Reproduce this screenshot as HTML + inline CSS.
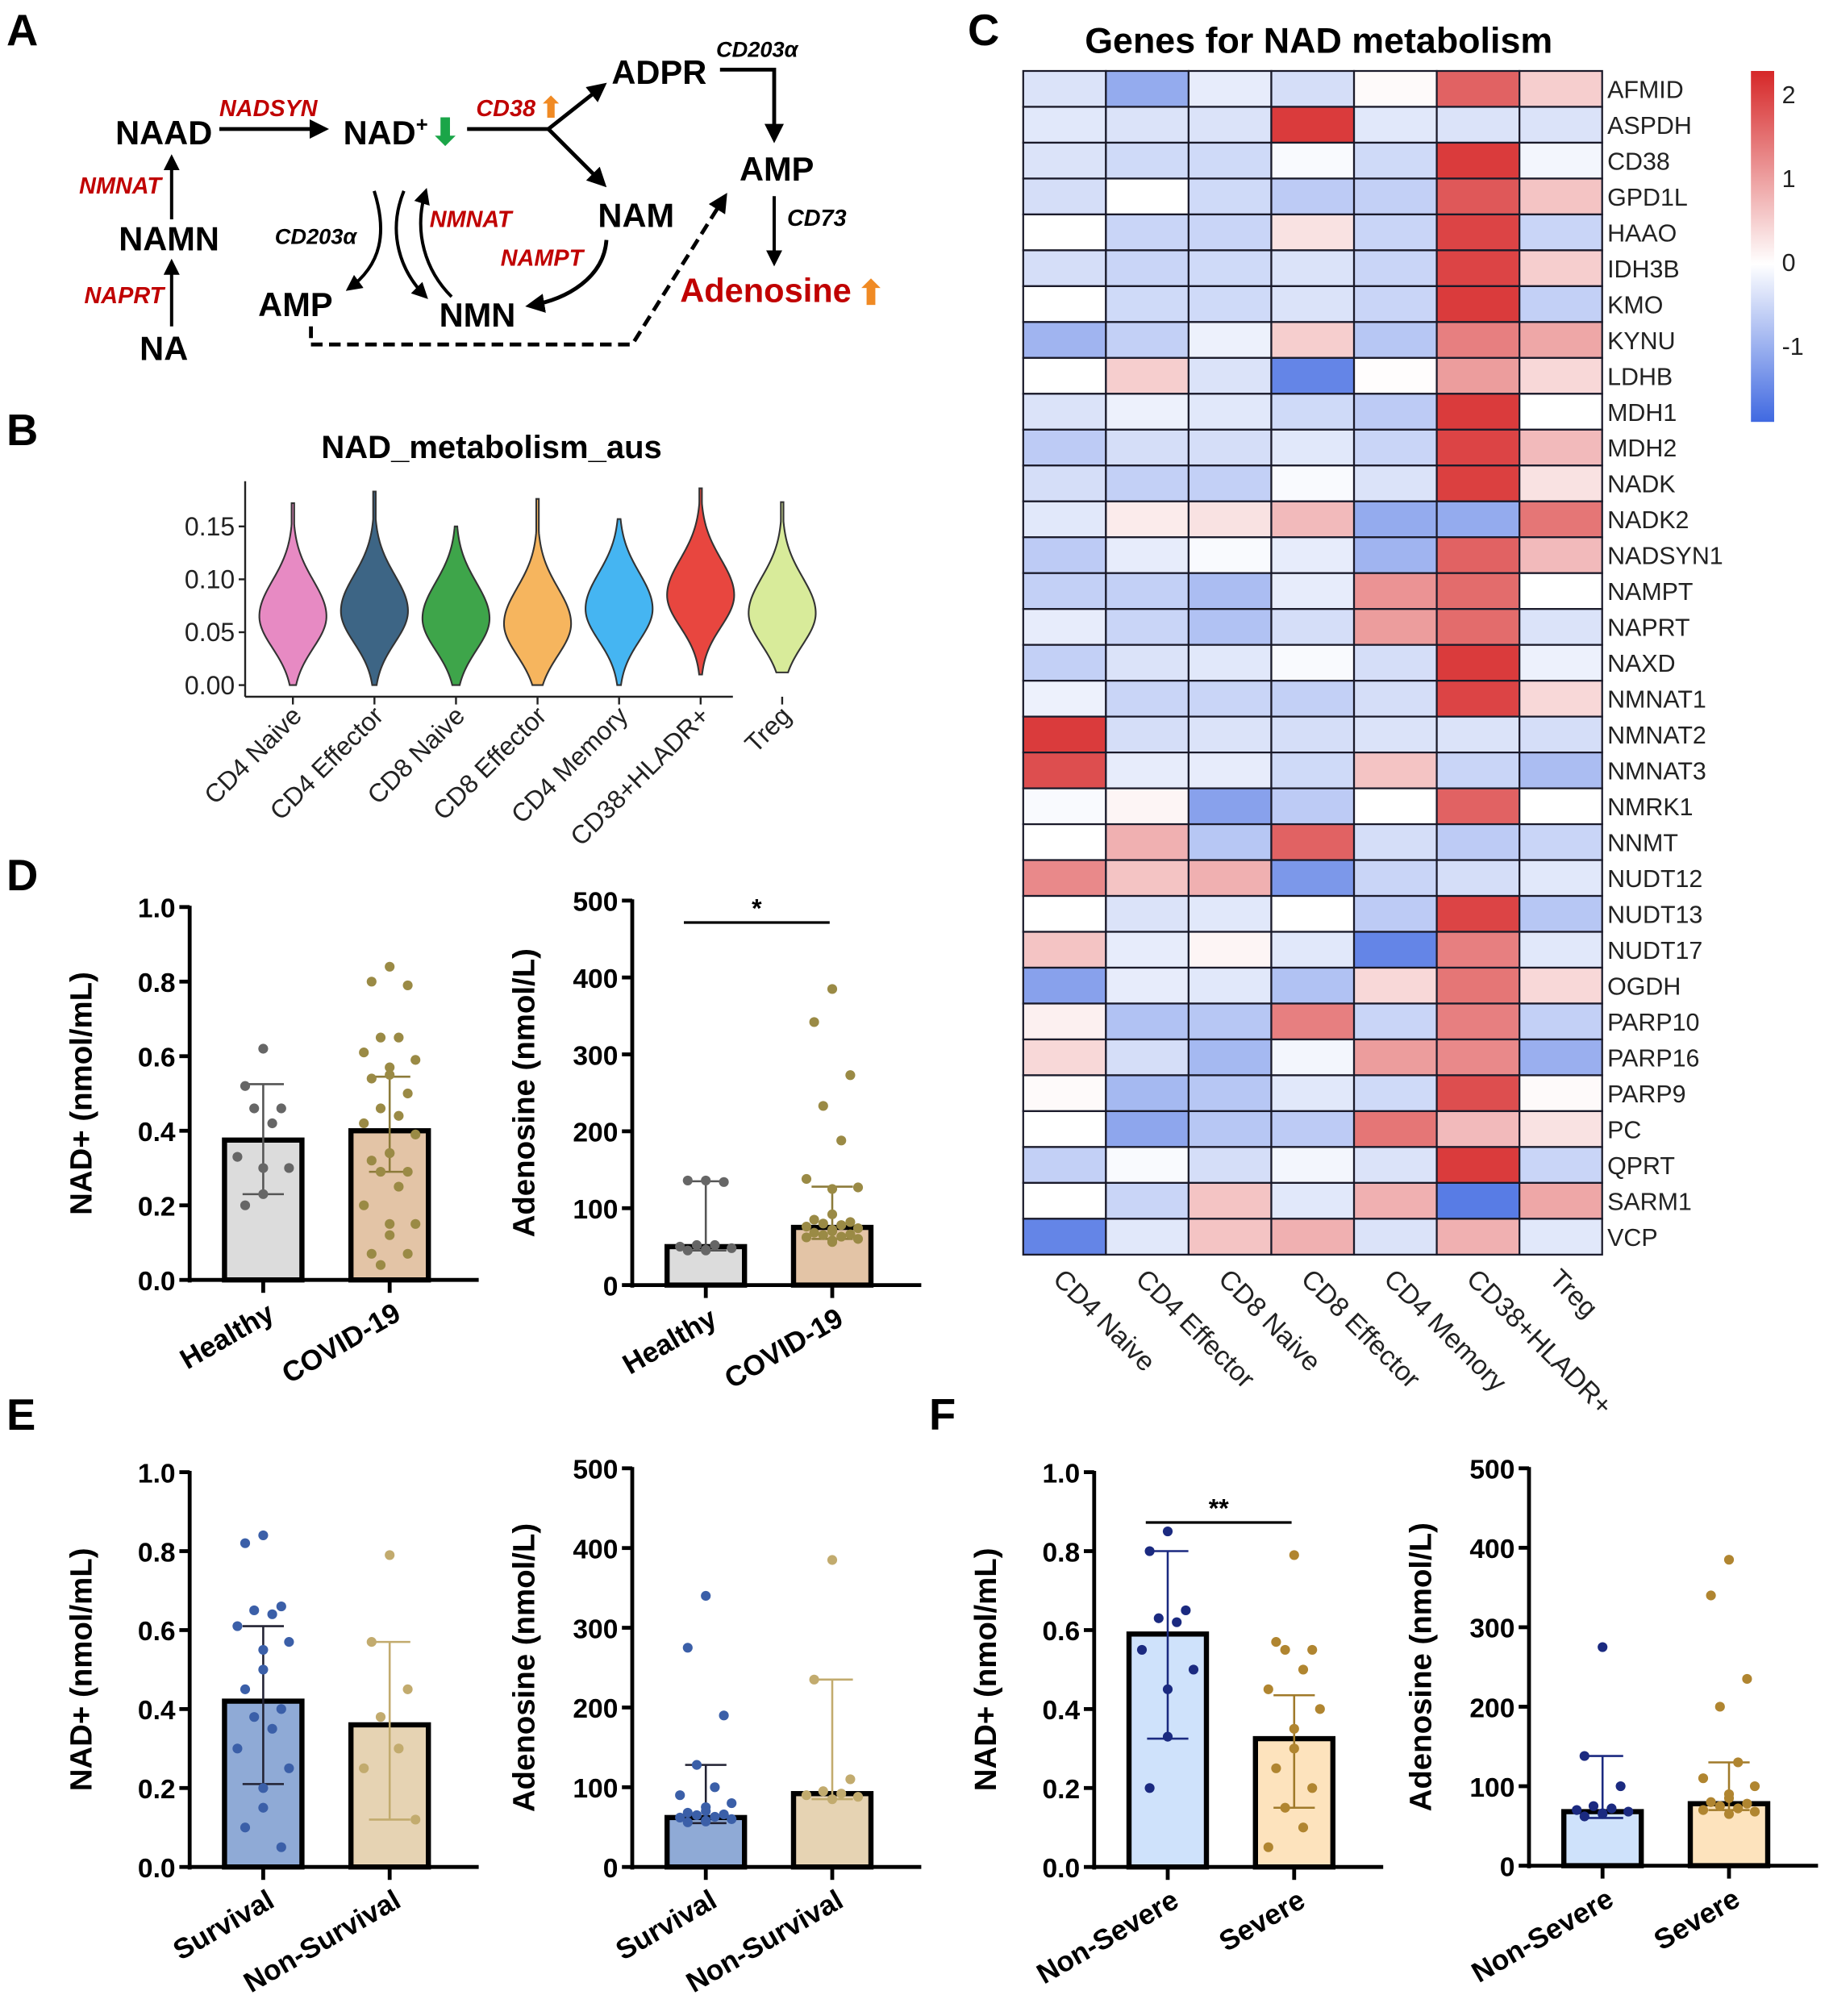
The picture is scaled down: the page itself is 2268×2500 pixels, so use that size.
<!DOCTYPE html>
<html><head><meta charset="utf-8"><style>
html,body{margin:0;padding:0;background:#fff;}
svg{display:block;}
text{font-family:"Liberation Sans",Arial,sans-serif;}
</style></head><body>
<svg id="fig" width="2268" height="2500" viewBox="0 0 1417.5 1562.5" xmlns="http://www.w3.org/2000/svg">
<defs>
<marker id="ah" viewBox="0 0 10 10" refX="8" refY="5" markerWidth="5" markerHeight="5" orient="auto"><path d="M0,0 L10,5 L0,10 z" fill="#000"/></marker>
</defs>
<g id="panelA" font-weight="bold">
<text x="5" y="35" font-size="34">A</text>
<text x="127" y="112" font-size="26" text-anchor="middle">NAAD</text>
<text x="131" y="194" font-size="26" text-anchor="middle">NAMN</text>
<text x="127" y="279" font-size="26" text-anchor="middle">NA</text>
<text x="125" y="150" font-size="18" fill="#c00000" font-style="italic" text-anchor="end">NMNAT</text>
<text x="127" y="235" font-size="18" fill="#c00000" font-style="italic" text-anchor="end">NAPRT</text>
<line x1="133" y1="170" x2="133" y2="122" stroke="#000" stroke-width="2.5" marker-end="url(#ah)"/>
<line x1="133" y1="253" x2="133" y2="203" stroke="#000" stroke-width="2.5" marker-end="url(#ah)"/>
<text x="208" y="90" font-size="18" fill="#c00000" font-style="italic" text-anchor="middle">NADSYN</text>
<line x1="170" y1="100" x2="252" y2="100" stroke="#000" stroke-width="3" marker-end="url(#ah)"/>
<text x="266" y="112" font-size="26">NAD<tspan font-size="16" dy="-10">+</tspan></text>
<text x="345" y="112" font-size="28" fill="#1aa548" text-anchor="middle">⬇</text>
<line x1="362" y1="100" x2="425" y2="100" stroke="#000" stroke-width="3"/>
<line x1="425" y1="100" x2="468" y2="66" stroke="#000" stroke-width="3" marker-end="url(#ah)"/>
<line x1="425" y1="100" x2="468" y2="143" stroke="#000" stroke-width="3" marker-end="url(#ah)"/>
<text x="369" y="90" font-size="18" fill="#c00000" font-style="italic">CD38</text>
<text x="427" y="91" font-size="22" fill="#f08a24" text-anchor="middle">⬆</text>
<text x="474" y="65" font-size="26">ADPR</text>
<text x="555" y="44" font-size="17" font-style="italic">CD203α</text>
<polyline points="558,54 600,54 600,108" fill="none" stroke="#000" stroke-width="3" marker-end="url(#ah)"/>
<text x="602" y="140" font-size="26" text-anchor="middle">AMP</text>
<line x1="600" y1="152" x2="600" y2="204" stroke="#000" stroke-width="2.5" marker-end="url(#ah)"/>
<text x="610" y="175" font-size="18" font-style="italic">CD73</text>
<text x="527" y="234" font-size="26" fill="#c00000">Adenosine</text>
<text x="675" y="236" font-size="26" fill="#f08a24" text-anchor="middle">⬆</text>
<text x="493" y="176" font-size="26" text-anchor="middle">NAM</text>
<text x="388" y="206" font-size="18" fill="#c00000" font-style="italic">NAMPT</text>
<path d="M470,186 C468,215 440,232 410,237" fill="none" stroke="#000" stroke-width="3" marker-end="url(#ah)"/>
<text x="370" y="253" font-size="26" text-anchor="middle">NMN</text>
<text x="229" y="245" font-size="26" text-anchor="middle">AMP</text>
<text x="213" y="189" font-size="17" font-style="italic">CD203α</text>
<text x="333" y="176" font-size="18" fill="#c00000" font-style="italic">NMNAT</text>
<path d="M290,148 C300,180 296,205 270,224" fill="none" stroke="#000" stroke-width="2.5" marker-end="url(#ah)"/>
<path d="M313,148 C300,180 310,210 330,230" fill="none" stroke="#000" stroke-width="2.5" marker-end="url(#ah)"/>
<path d="M350,230 C330,210 320,180 330,148" fill="none" stroke="#000" stroke-width="2.5" marker-end="url(#ah)"/>
<polyline points="241,253 241,267 490,267 562,152" fill="none" stroke="#000" stroke-width="3" stroke-dasharray="9,5" marker-end="url(#ah)"/>
</g>
<g id="panelB"></g>
<g id="panelC"></g>
<g id="bars"></g>
</svg>
<script>
const violinCats = ["CD4 Naive","CD4 Effector","CD8 Naive","CD8 Effector","CD4 Memory","CD38+HLADR+","Treg"];
const violinPeak = [0.065,0.070,0.063,0.058,0.072,0.085,0.068];
const violinMin = [0.0,0.0,0.0,0.0,0.0,0.01,0.012];
const violinMax = [0.172,0.183,0.150,0.176,0.157,0.186,0.173];
const violinColors = ["#e78ac3","#3d6585","#3ea54a","#f6b55e","#45b5f2","#e8463f","#d8eb9a"];
const violinTicks = [0,0.05,0.10,0.15];
const violinTickLabels = ["0.00","0.05","0.10","0.15"];

const genes = ["AFMID","ASPDH","CD38","GPD1L","HAAO","IDH3B","KMO","KYNU","LDHB","MDH1","MDH2","NADK","NADK2","NADSYN1","NAMPT","NAPRT","NAXD","NMNAT1","NMNAT2","NMNAT3","NMRK1","NNMT","NUDT12","NUDT13","NUDT17","OGDH","PARP10","PARP16","PARP9","PC","QPRT","SARM1","VCP"];
const cellTypes = ["CD4 Naive","CD4 Effector","CD8 Naive","CD8 Effector","CD4 Memory","CD38+HLADR+","Treg"];
const heatValues = [
[-0.3,-0.9,-0.2,-0.35,0.05,1.6,0.5],
[-0.25,-0.3,-0.3,2.0,-0.25,-0.3,-0.3],
[-0.3,-0.4,-0.4,-0.05,-0.4,2.0,-0.1],
[-0.35,0,-0.4,-0.55,-0.5,1.7,0.6],
[0,-0.45,-0.45,0.3,-0.45,1.9,-0.45],
[-0.35,-0.45,-0.4,-0.3,-0.45,1.9,0.5],
[0,-0.4,-0.4,-0.3,-0.45,2.0,-0.5],
[-0.8,-0.5,-0.15,0.5,-0.6,1.3,0.9],
[0,0.5,-0.3,-1.3,0.02,1.0,0.4],
[-0.3,-0.15,-0.25,-0.4,-0.55,2.0,0],
[-0.55,-0.35,-0.35,-0.25,-0.45,1.9,0.7],
[-0.35,-0.5,-0.5,-0.05,-0.3,1.95,0.3],
[-0.25,0.2,0.3,0.7,-0.9,-0.9,1.4],
[-0.55,-0.2,-0.05,-0.2,-0.8,1.6,0.7],
[-0.5,-0.5,-0.7,-0.2,1.1,1.5,0],
[-0.2,-0.45,-0.65,-0.35,1.0,1.5,-0.3],
[-0.5,-0.3,-0.25,-0.05,-0.35,2.0,-0.15],
[-0.15,-0.45,-0.45,-0.5,-0.35,1.9,0.4],
[2.0,-0.35,-0.3,-0.35,-0.3,-0.3,-0.35],
[1.8,-0.2,-0.2,-0.4,0.6,-0.45,-0.7],
[-0.05,0.1,-1.0,-0.55,0,1.6,0],
[0,0.8,-0.6,1.6,-0.35,-0.55,-0.45],
[1.2,0.6,0.8,-1.1,-0.45,-0.35,-0.25],
[0,-0.3,-0.25,0,-0.55,1.9,-0.6],
[0.6,-0.2,0.1,-0.25,-1.3,1.3,-0.25],
[-1.0,-0.2,-0.25,-0.65,0.4,1.4,0.4],
[0.15,-0.65,-0.6,1.3,-0.45,1.3,-0.5],
[0.4,-0.35,-0.75,-0.1,1.0,1.2,-0.85],
[0.05,-0.75,-0.6,-0.25,-0.4,1.8,0.05],
[0,-0.95,-0.6,-0.55,1.4,0.7,0.3],
[-0.5,-0.05,-0.35,-0.1,-0.3,2.0,-0.45],
[0,-0.45,0.6,-0.25,0.8,-1.4,0.9],
[-1.3,-0.25,0.6,0.8,-0.3,0.8,-0.25]];
const colorbarTicks = [2,1,0,-1];

const dNadCats = ["Healthy","COVID-19"];
const dNadMeans = [0.375,0.40];
const dNadErr = [[0.23,0.525],[0.29,0.545]];
const dNadPts = [[0.62,0.52,0.46,0.46,0.42,0.33,0.30,0.30,0.23,0.20],
 [0.84,0.80,0.79,0.65,0.65,0.61,0.59,0.57,0.55,0.54,0.50,0.46,0.44,0.42,0.39,0.34,0.34,0.32,0.29,0.29,0.25,0.20,0.15,0.15,0.12,0.07,0.07,0.04]];
const dAdoCats = ["Healthy","COVID-19"];
const dAdoMeans = [50,75];
const dAdoErr = [[45,135],[60,128]];
const dAdoPts = [[136,136,134,52,52,50,48,46,45,45],
 [385,342,273,233,188,138,127,125,92,85,82,80,78,76,74,72,70,68,66,65,63,62,60,58,56]];
const eNadCats = ["Survival","Non-Survival"];
const eNadMeans = [0.42,0.36];
const eNadErr = [[0.21,0.61],[0.12,0.57]];
const eNadPts = [[0.84,0.82,0.66,0.65,0.64,0.61,0.57,0.55,0.50,0.45,0.40,0.38,0.35,0.30,0.25,0.20,0.15,0.10,0.05],
 [0.79,0.57,0.45,0.38,0.30,0.25,0.12]];
const eAdoCats = ["Survival","Non-Survival"];
const eAdoMeans = [62,92];
const eAdoErr = [[55,128],[85,235]];
const eAdoPts = [[340,275,190,128,100,90,80,75,70,68,66,65,63,62,60,58,57,56],
 [385,235,110,95,92,90,88,85]];
const fNadCats = ["Non-Severe","Severe"];
const fNadMeans = [0.59,0.325];
const fNadErr = [[0.325,0.80],[0.15,0.435]];
const fNadPts = [[0.85,0.80,0.65,0.63,0.62,0.55,0.50,0.45,0.33,0.20],
 [0.79,0.57,0.55,0.55,0.50,0.45,0.40,0.35,0.30,0.25,0.20,0.15,0.10,0.05]];
const fAdoCats = ["Non-Severe","Severe"];
const fAdoMeans = [68,78];
const fAdoErr = [[60,138],[70,130]];
const fAdoPts = [[275,138,100,75,72,70,68,66,65,62],
 [385,340,235,200,130,110,100,90,85,80,78,75,72,70,68,65]];

const NS = "http://www.w3.org/2000/svg";
function mk(tag, attrs, parent) {
  const e = document.createElementNS(NS, tag);
  for (const k in attrs) e.setAttribute(k, attrs[k]);
  if (parent) parent.appendChild(e);
  return e;
}

(function(){
  const g = document.getElementById('panelB');
  const x0 = 190, y0 = 531, y15 = 408;
  const yS = v => y0 - (v / 0.15) * (y0 - y15);
  const xS = i => 227 + i * 63.2;
  const lab = mk('text', {x: 5, y: 345, 'font-size': 34, 'font-weight': 'bold'}, g);
  
  
  lab.textContent = 'B';
  const t = mk('text', {x: 381, y: 355, 'font-size': 25, 'font-weight': 'bold', 'text-anchor': 'middle'}, g);
  
  
  t.textContent = 'NAD_metabolism_aus';
  const yl = mk('line', {x1: x0, y1: 373, x2: x0, y2: 540, stroke: '#222', 'stroke-width': 1.5}, g);
  
  
  const xl = mk('line', {x1: x0, y1: 540, x2: 568, y2: 540, stroke: '#222', 'stroke-width': 1.5}, g);
  
  
  violinTicks.forEach((v, i) => {
    mk('line', {x1: x0 - 5, y1: yS(v), x2: x0, y2: yS(v), stroke: '#222', 'stroke-width': 1.5}, g);
    const tl = mk('text', {x: x0 - 8, y: yS(v) + 7, 'font-size': 20, 'text-anchor': 'end', fill: '#222'}, g);
    
    
    tl.textContent = violinTickLabels[i];
  });
  violinCats.forEach((c, i) => {
    const cx = xS(i);
    const lo = violinMin[i], hi = violinMax[i], pk = violinPeak[i];
    const pts = [];
    const n = 70;
    for (let k = 0; k <= n; k++) {
      const v = lo + (hi - lo) * k / n;
      const s = v < pk ? 0.030 : 0.034;
      let w = 26 * Math.exp(-Math.pow((v - pk) / s, 2) / 2);
      w = Math.max(w, 1.0);
      pts.push([v, w]);
    }
    let d = 'M' + cx + ',' + yS(lo);
    pts.forEach(p => d += ' L' + (cx + p[1]) + ',' + yS(p[0]));
    for (let k = pts.length - 1; k >= 0; k--) d += ' L' + (cx - pts[k][1]) + ',' + yS(pts[k][0]);
    d += 'Z';
    const vp = mk('path', {d: d, fill: violinColors[i], stroke: '#333', 'stroke-width': 1.3}, g);
    
    
    mk('line', {x1: cx, y1: 540, x2: cx, y2: 546, stroke: '#222', 'stroke-width': 1.5}, g);
    const cl = mk('text', {x: cx + 8, y: 556, 'font-size': 20, 'text-anchor': 'end', fill: '#222', transform: 'rotate(-45 ' + (cx + 8) + ' 556)'}, g);
    
    
    cl.textContent = c;
  });
})();

(function(){
  const g = document.getElementById('panelC');
  const x0 = 793, y0 = 55, cw = 64.1, ch = 27.8;
  const lab = mk('text', {x: 750, y: 35, 'font-size': 34, 'font-weight': 'bold'}, g);
  
  
  lab.textContent = 'C';
  const t = mk('text', {x: 1022, y: 41, 'font-size': 28, 'font-weight': 'bold', 'text-anchor': 'middle'}, g);
  
  
  t.textContent = 'Genes for NAD metabolism';
  function col(v) {
    const blue = [64, 105, 225], red = [214, 39, 40];
    let c;
    if (v >= 0) { const f = Math.min(v / 2.2, 1); c = [255 + (red[0] - 255) * f, 255 + (red[1] - 255) * f, 255 + (red[2] - 255) * f]; }
    else { const f = Math.min(-v / 1.6, 1); c = [255 + (blue[0] - 255) * f, 255 + (blue[1] - 255) * f, 255 + (blue[2] - 255) * f]; }
    return 'rgb(' + c.map(Math.round).join(',') + ')';
  }
  heatValues.forEach((row, r) => {
    row.forEach((v, c) => {
      const rc = mk('rect', {x: x0 + c * cw, y: y0 + r * ch, width: cw, height: ch, fill: col(v), stroke: '#1a1a2a', 'stroke-width': 1.4}, g);
      
      
    });
    const gl = mk('text', {x: x0 + 7 * cw + 4, y: y0 + r * ch + ch / 2 + 7, 'font-size': 19, fill: '#222'}, g);
    
    
    gl.textContent = genes[r];
  });
  cellTypes.forEach((c, i) => {
    const cx = x0 + i * cw + 22, cy = y0 + 33 * ch + 20;
    const cl = mk('text', {x: cx, y: cy, 'font-size': 21, fill: '#222', transform: 'rotate(45 ' + cx + ' ' + cy + ')'}, g);
    
    
    cl.textContent = c;
  });
  const gradId = 'cbg';
  const defs = mk('defs', {}, g);
  const lg = mk('linearGradient', {id: gradId, x1: 0, y1: 0, x2: 0, y2: 1}, defs);
  mk('stop', {offset: '0', 'stop-color': col(2.2)}, lg);
  mk('stop', {offset: '0.55', 'stop-color': '#ffffff'}, lg);
  mk('stop', {offset: '1', 'stop-color': col(-1.6)}, lg);
  const cb = mk('rect', {x: 1357, y: 55, width: 18, height: 272, fill: 'url(#' + gradId + ')'}, g);
  
  
  colorbarTicks.forEach(v => {
    const y = 203 - v * 65;
    const tl = mk('text', {x: 1381, y: y + 7, 'font-size': 19, fill: '#222'}, g);
    
    
    tl.textContent = String(v);
  });
})();

function barPanel(o) {
  const g = mk('g', {}, document.getElementById('bars'));
  
  
  const yS = v => o.y0 - (v / o.max) * (o.y0 - o.yTop);
  const xEnd = o.ax + 224;
  const ya = mk('line', {x1: o.ax, y1: o.yTop - 1, x2: o.ax, y2: o.y0 + 2, stroke: '#000', 'stroke-width': 3}, g);
  
  
  const xa = mk('line', {x1: o.ax - 1.5, y1: o.y0, x2: xEnd, y2: o.y0, stroke: '#000', 'stroke-width': 3}, g);
  
  
  o.ticks.forEach(v => {
    mk('line', {x1: o.ax - 8, y1: yS(v), x2: o.ax, y2: yS(v), stroke: '#000', 'stroke-width': 3}, g);
    const tl = mk('text', {x: o.ax - 11, y: yS(v) + 8, 'font-size': 21, 'font-weight': 'bold', 'text-anchor': 'end'}, g);
    
    
    tl.textContent = o.fmt(v);
  });
  const ty = (o.y0 + o.yTop) / 2;
  const tt = mk('text', {x: o.ax - 76, y: ty, 'font-size': 24, 'font-weight': 'bold', 'text-anchor': 'middle', transform: 'rotate(-90 ' + (o.ax - 76) + ' ' + ty + ')'}, g);
  
  
  tt.textContent = o.title;
  o.cats.forEach((c, i) => {
    const cx = o.ax + 57 + i * 98;
    const top = yS(o.means[i]);
    const b = mk('rect', {x: cx - 30, y: top, width: 60, height: o.y0 - top, fill: o.fills[i], stroke: '#000', 'stroke-width': 4}, g);
    
    
    const e = o.err[i];
    const ec = o.errColors[i];
    mk('line', {x1: cx, y1: yS(e[0]), x2: cx, y2: yS(e[1]), stroke: ec, 'stroke-width': 1.6}, g);
    mk('line', {x1: cx - 16, y1: yS(e[0]), x2: cx + 16, y2: yS(e[0]), stroke: ec, 'stroke-width': 1.6}, g);
    mk('line', {x1: cx - 16, y1: yS(e[1]), x2: cx + 16, y2: yS(e[1]), stroke: ec, 'stroke-width': 1.6}, g);
    o.pts[i].forEach((v, k) => {
      const off = [0, -14, 14, -7, 7, -20, 20, 0][k % 8];
      const p = mk('circle', {cx: cx + off, cy: yS(v), r: 3.8, fill: o.dotColors[i]}, g);
      
      
    });
    mk('line', {x1: cx, y1: o.y0, x2: cx, y2: o.y0 + 10, stroke: '#000', 'stroke-width': 3}, g);
    const lx = cx + 10, ly = o.y0 + 30;
    const cl = mk('text', {x: lx, y: ly, 'font-size': 22, 'font-weight': 'bold', 'text-anchor': 'end', transform: 'rotate(-30 ' + lx + ' ' + ly + ')'}, g);
    
    
    cl.textContent = c;
  });
  if (o.sig) {
    const x1 = o.ax + 57 - 17, x2 = o.ax + 57 + 98 - 2;
    const sl = mk('line', {x1: x1, y1: o.sig.y, x2: x2, y2: o.sig.y, stroke: '#000', 'stroke-width': 2}, g);
    
    
    const st = mk('text', {x: (x1 + x2) / 2, y: o.sig.y - 4, 'font-size': 20, 'font-weight': 'bold', 'text-anchor': 'middle'}, g);
    
    
    st.textContent = o.sig.t;
  }
}
const f1 = v => v.toFixed(1), f0 = v => String(v);
const nadT = [0, 0.2, 0.4, 0.6, 0.8, 1.0], adoT = [0, 100, 200, 300, 400, 500];
barPanel({name: 'panel-d-nad', ax: 147, y0: 992, yTop: 703, max: 1, ticks: nadT, fmt: f1, title: 'NAD+ (nmol/mL)', cats: dNadCats, means: dNadMeans, err: dNadErr, pts: dNadPts, fills: ['#dcdcdc', '#e3c4a6'], errColors: ['#555', '#8c7b3a'], dotColors: ['#666', '#9a8a45']});
barPanel({name: 'panel-d-adenosine', ax: 490, y0: 996, yTop: 698, max: 500, ticks: adoT, fmt: f0, title: 'Adenosine (nmol/L)', cats: dAdoCats, means: dAdoMeans, err: dAdoErr, pts: dAdoPts, fills: ['#dcdcdc', '#e3c4a6'], errColors: ['#555', '#8c7b3a'], dotColors: ['#666', '#9a8a45'], sig: {y: 715, t: '*'}});
barPanel({name: 'panel-e-nad', ax: 147, y0: 1447, yTop: 1141, max: 1, ticks: nadT, fmt: f1, title: 'NAD+ (nmol/mL)', cats: eNadCats, means: eNadMeans, err: eNadErr, pts: eNadPts, fills: ['#8faad6', '#e6d3b3'], errColors: ['#223', '#c2ab6e'], dotColors: ['#3b5fa8', '#c2ab6e']});
barPanel({name: 'panel-e-adenosine', ax: 490, y0: 1447, yTop: 1138, max: 500, ticks: adoT, fmt: f0, title: 'Adenosine (nmol/L)', cats: eAdoCats, means: eAdoMeans, err: eAdoErr, pts: eAdoPts, fills: ['#8faad6', '#e6d3b3'], errColors: ['#223', '#c2ab6e'], dotColors: ['#3b5fa8', '#c2ab6e']});
barPanel({name: 'panel-f-nad', ax: 848, y0: 1447, yTop: 1141, max: 1, ticks: nadT, fmt: f1, title: 'NAD+ (nmol/mL)', cats: fNadCats, means: fNadMeans, err: fNadErr, pts: fNadPts, fills: ['#cfe2fb', '#fde3bd'], errColors: ['#1b2a80', '#a07a2a'], dotColors: ['#1b2a80', '#b08530'], sig: {y: 1180, t: '**'}});
barPanel({name: 'panel-f-adenosine', ax: 1185, y0: 1446, yTop: 1138, max: 500, ticks: adoT, fmt: f0, title: 'Adenosine (nmol/L)', cats: fAdoCats, means: fAdoMeans, err: fAdoErr, pts: fAdoPts, fills: ['#cfe2fb', '#fde3bd'], errColors: ['#1b2a80', '#a07a2a'], dotColors: ['#1b2a80', '#b08530']});
[['D', 5, 690], ['E', 5, 1108], ['F', 720, 1108]].forEach(p => {
  const t = mk('text', {x: p[1], y: p[2], 'font-size': 34, 'font-weight': 'bold'}, document.getElementById('bars'));
  
  
  t.textContent = p[0];
});
</script>
</body></html>
